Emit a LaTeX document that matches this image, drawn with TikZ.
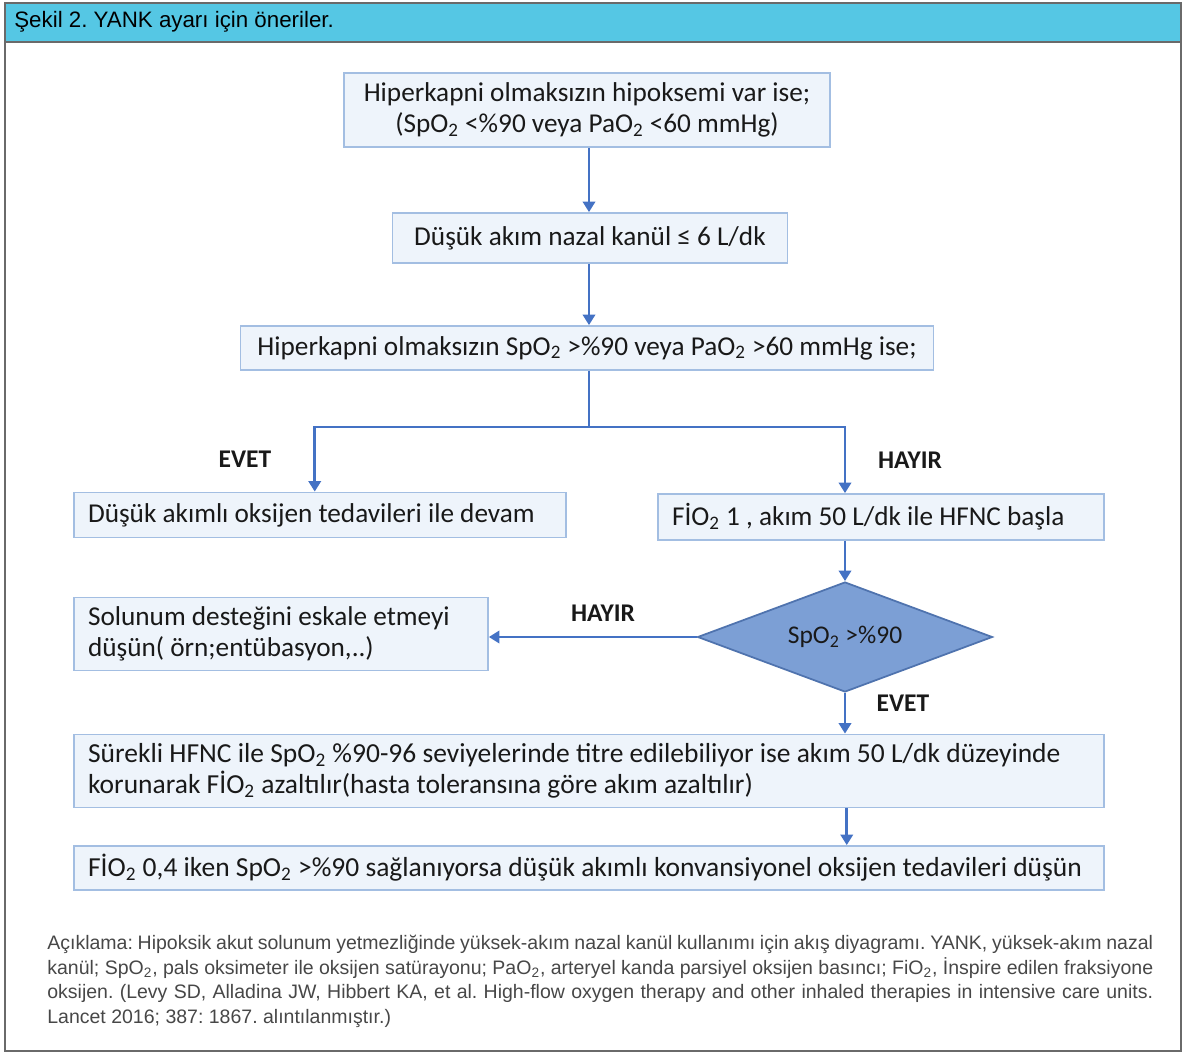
\documentclass[tikz,border=0pt]{standalone}
\usepackage{fontspec}
\setmainfont{Carlito}
\newfontfamily\capfont{Liberation Sans}
\usetikzlibrary{arrows.meta,shapes.geometric}
\definecolor{headcyan}{HTML}{55C7E4}
\definecolor{boxfill}{HTML}{EEF4FB}
\definecolor{boxline}{HTML}{A3BEE2}
\definecolor{flowblue}{HTML}{4472C4}
\definecolor{diafill}{HTML}{7C9FD5}
\definecolor{dialine}{HTML}{4F73AE}
\definecolor{frameline}{HTML}{6A6A6A}
\frenchspacing
\begin{document}
\begin{tikzpicture}[x=0.02cm,y=-0.02cm,
  every node/.style={font=\fontsize{15.5}{17.8}\selectfont,text=black!90},
  box/.style={draw=boxline,fill=boxfill,line width=1pt,inner xsep=0.28cm,inner ysep=0pt},
  widebox/.style={box,text width=20.04cm,align=flush left,font=\fontsize{15.65}{17.8}\selectfont},
  arr/.style={draw=flowblue,line width=1.6pt,-{Triangle[length=6pt,width=7pt]}},
  lbl/.style={font=\fontsize{14.5}{17}\selectfont\bfseries}]
  \useasboundingbox (0,0) rectangle (1183,1054);
  % frame and title band
  \draw[frameline,line width=0.8pt] (5,3) rectangle (1181,1051);
  \draw[frameline,fill=headcyan,line width=0.8pt] (5,3) rectangle (1181,42);
  \node[anchor=west,inner sep=0pt,font=\capfont\fontsize{12.7}{14}\selectfont,text=black] (title) at (14,22) {Şekil 2. YANK ayarı için öneriler.};
  % flow boxes
  \node[box,minimum width=9.72cm,minimum height=1.48cm,align=center] (hipox) at (587,110)
    {Hiperkapni olmaksızın hipoksemi var ise;\\(SpO\textsubscript{2} <\%90 veya PaO\textsubscript{2} <60 mmHg)};
  \node[box,minimum width=7.9cm,minimum height=1.0cm] (nazal) at (590,238)
    {Düşük akım nazal kanül ≤ 6 L/dk};
  \node[box,minimum width=13.86cm,minimum height=0.88cm] (kontrol) at (587,348)
    {Hiperkapni olmaksızın SpO\textsubscript{2} >\%90 veya PaO\textsubscript{2} >60 mmHg ise;};
  \node[box,text width=9.28cm,minimum height=0.9cm,align=flush left] (devam) at (320,515)
    {Düşük akımlı oksijen tedavileri ile devam};
  \node[box,text width=8.36cm,minimum height=0.92cm,align=flush left] (hfnc) at (881,517)
    {FİO\textsubscript{2} 1 , akım 50 L/dk ile HFNC başla};
  \node[diamond,shape aspect=2.68,draw=dialine,fill=diafill,line width=1pt,inner sep=0pt,minimum width=5.9cm,minimum height=2.2cm,
    font=\fontsize{14.5}{17}\selectfont] (spo) at (845,637)
    {SpO\textsubscript{2} >\%90};
  \node[box,text width=7.72cm,minimum height=1.46cm,align=flush left] (eskale) at (281,634)
    {Solunum desteğini eskale etmeyi\\düşün( örn;entübasyon,..)};
  \node[widebox,minimum height=1.46cm] (titre) at (589,771)
    {Sürekli HFNC ile SpO\textsubscript{2} \%90-96 seviyelerinde titre edilebiliyor ise akım 50 L/dk düzeyinde\\korunarak FİO\textsubscript{2} azaltılır(hasta toleransına göre akım azaltılır)};
  \node[widebox,minimum height=0.88cm] (konv) at (589,868)
    {FİO\textsubscript{2} 0,4 iken SpO\textsubscript{2} >\%90 sağlanıyorsa düşük akımlı konvansiyonel oksijen tedavileri düşün};
  % branch labels
  \node[lbl] (evet1) at (245,459) {EVET};
  \node[lbl] (hayir1) at (910,460) {HAYIR};
  \node[lbl] (hayir2) at (603,613) {HAYIR};
  \node[lbl] (evet2) at (903,703) {EVET};
  % connectors
  \coordinate (split) at (589,427);
  \draw[arr] (hipox.south -| split) -- (nazal.north -| split);
  \draw[arr] (nazal.south -| split) -- (kontrol.north -| split);
  \draw[draw=flowblue,line width=1.6pt] (kontrol.south -| split) -- (split);
  \draw[arr] (split) -| ([xshift=-3pt]devam.north);
  \draw[arr] (split) -| (spo |- hfnc.north);
  \draw[arr] (spo |- hfnc.south) -- (spo.north);
  \draw[arr] (spo.west) -- (spo.west -| eskale.east);
  \draw[arr] (spo.south) -- (spo.south |- titre.north);
  \draw[arr] ([xshift=1pt]spo |- titre.south) -- ([xshift=1pt]spo |- konv.north);
  % caption
  \node[anchor=north west,inner sep=0pt,text width=22.12cm,align=justify,text=black!72,
    font=\capfont\fontsize{11.1}{13.9}\selectfont] (note) at (47,935)
    {Açıklama: Hipoksik akut solunum yetmezliğinde yüksek-akım nazal kanül kullanımı için akış diyagramı. YANK, yüksek-akım nazal\linebreak
    kanül; SpO\textsubscript{2}, pals oksimeter ile oksijen satürayonu; PaO\textsubscript{2}, arteryel kanda parsiyel oksijen basıncı; FiO\textsubscript{2}, İnspire edilen fraksiyone\linebreak
    oksijen. (Levy SD, Alladina JW, Hibbert KA, et al. High-flow oxygen therapy and other inhaled therapies in intensive care units.\linebreak
    Lancet 2016; 387: 1867. alıntılanmıştır.)};
\end{tikzpicture}
\end{document}
